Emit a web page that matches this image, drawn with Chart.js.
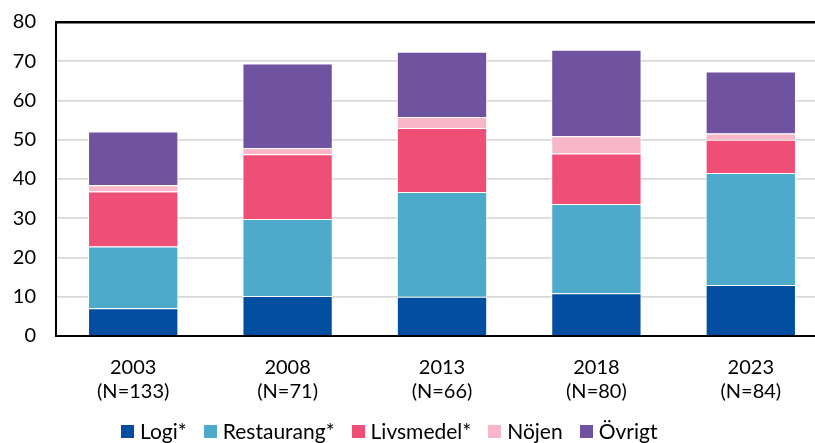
<!DOCTYPE html>
<html lang="sv">
<head>
<meta charset="utf-8">
<script src="https://cdn.jsdelivr.net/npm/chart.js@4"></script>
<style>
  html, body { margin: 0; padding: 0; background: #fff; overflow: hidden; }
  #wrap { position: relative; width: 830px; height: 443px; }
  #legend {
    position: absolute; left: 121px; top: 419px;
    display: flex; align-items: center;
    font-family: Lato, 'Noto Sans', sans-serif; font-size: 21px; color: #000;
    line-height: 24px; white-space: nowrap;
  }
  #legend span.item { display: flex; align-items: center; margin-right: 17px; }
  #legend span.box { width: 13px; height: 13px; margin-right: 6px; display: inline-block; }
</style>
</head>
<body>
<div id="wrap">
  <canvas id="chart" width="830" height="443"></canvas>
  <div id="legend"></div>
</div>
<script>
// Data
const years = ['2003', '2008', '2013', '2018', '2023'];
const sampleSizes = ['(N=133)', '(N=71)', '(N=66)', '(N=80)', '(N=84)'];
const seriesNames = ['Logi*', 'Restaurang*', 'Livsmedel*', 'Nöjen', 'Övrigt'];
const seriesColors = ['#044EA1', '#4EAACB', '#EF4F77', '#F8B7C8', '#6F52A0'];

const logi = [7.1, 10.2, 10.0, 10.9, 13.0];
const restaurang = [15.7, 19.6, 26.7, 22.7, 28.5];
const livsmedel = [14.0, 16.5, 16.3, 12.9, 8.5];
const nojen = [1.6, 1.6, 2.8, 4.4, 1.6];
const ovrigt = [13.7, 21.5, 16.6, 22.0, 15.8];

const yTicks = [0, 10, 20, 30, 40, 50, 60, 70, 80];

const allSeries = [logi, restaurang, livsmedel, nojen, ovrigt];
const FONT = 'Lato, "Noto Sans", sans-serif';

// Build chart
const ctx = document.getElementById('chart').getContext('2d');

const datasets = allSeries.map((values, i) => ({
  label: seriesNames[i],
  data: values,
  backgroundColor: seriesColors[i],
  borderColor: '#ffffff',
  borderWidth: 1,
  barPercentage: 0.585,
  categoryPercentage: 1.0
}));

new Chart(ctx, {
  type: 'bar',
  data: {
    labels: years.map((y, i) => [y, sampleSizes[i]]),
    datasets: datasets
  },
  options: {
    responsive: false,
    animation: false,
    layout: { padding: { top: 22, right: 2, left: 0, bottom: 0 } },
    plugins: {
      legend: { display: false },
      tooltip: { enabled: false }
    },
    scales: {
      x: {
        stacked: true,
        grid: { display: false, drawTicks: false },
        border: { display: true, color: '#000', width: 2 },
        ticks: {
          color: '#000',
          padding: 20,
          font: { size: 20, family: FONT, lineHeight: 1.18 }
        },
        afterFit: (scale) => { scale.height = 107; }
      },
      y: {
        stacked: true,
        min: 0,
        max: 80,
        afterBuildTicks: (scale) => { scale.ticks = yTicks.map(v => ({ value: v })); },
        grid: {
          drawTicks: false,
          color: (c) => c.tick && c.tick.value === 80 ? '#000' : '#d9d9d9',
          lineWidth: (c) => c.tick && c.tick.value === 80 ? 2.5 : 1.8
        },
        border: { display: true, color: '#000', width: 2 },
        ticks: {
          color: '#000',
          padding: 20,
          font: { size: 20, family: FONT }
        },
        afterFit: (scale) => {
          scale.width = 56;
          scale.paddingTop = 0;
          scale.paddingBottom = 0;
        }
      }
    }
  }
});

// HTML legend
const legend = document.getElementById('legend');
legend.innerHTML = seriesNames.map((name, i) => `
  <span class="item"><span class="box" style="background:${seriesColors[i]}"></span>${name}</span>
`).join('');
</script>
</body>
</html>
